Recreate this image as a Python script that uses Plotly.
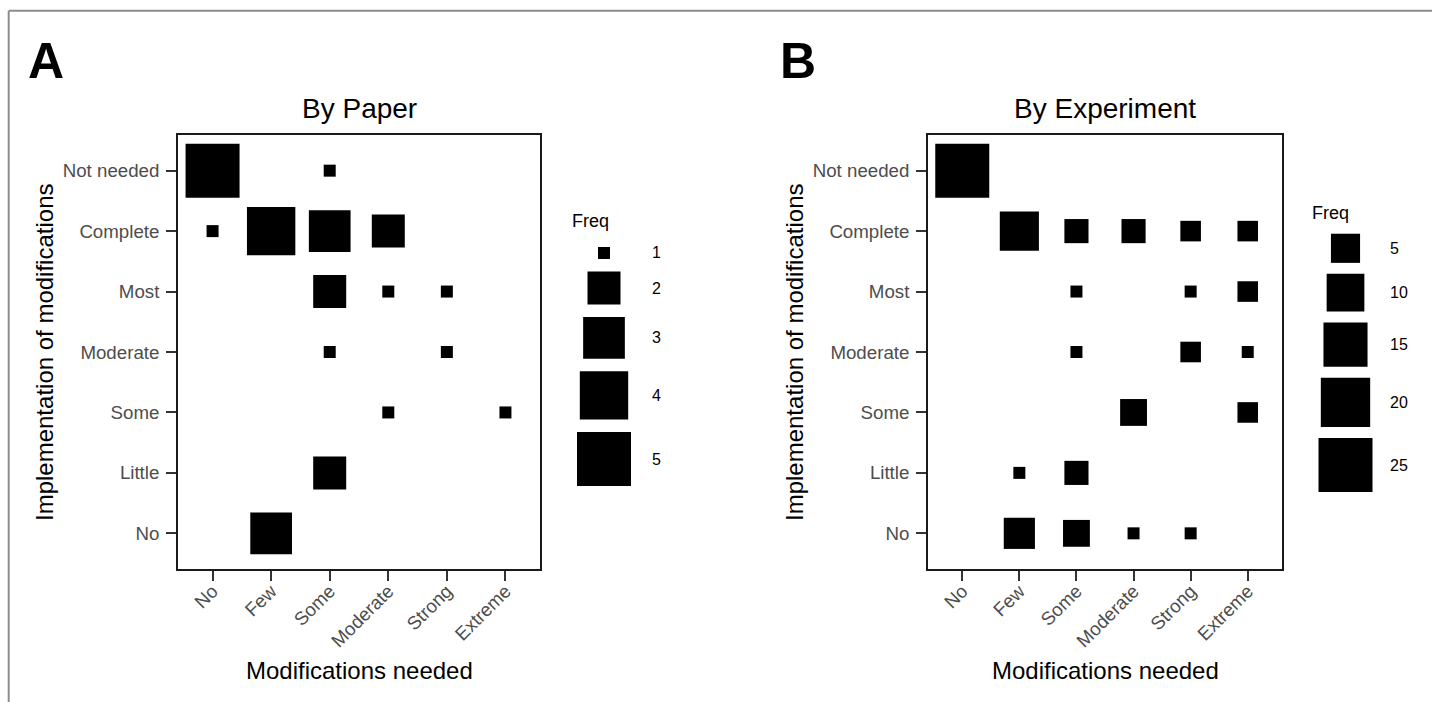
import numpy as np
import plotly.graph_objects as go

# ---------------- data ----------------
mod_levels = ["No", "Few", "Some", "Moderate", "Strong", "Extreme"]
impl_levels = ["Not needed", "Complete", "Most", "Moderate", "Some", "Little", "No"]

paper_mod = ["No", "Some", "No", "Few", "Some", "Moderate", "Some", "Moderate", "Strong",
             "Some", "Strong", "Moderate", "Extreme", "Some", "Few"]
paper_impl = ["Not needed", "Not needed", "Complete", "Complete", "Complete", "Complete",
              "Most", "Most", "Most", "Moderate", "Moderate", "Some", "Some", "Little", "No"]
paper_freq = [5, 1, 1, 4, 3, 2, 2, 1, 1, 1, 1, 1, 1, 2, 3]

exp_mod = ["No", "Few", "Some", "Moderate", "Strong", "Extreme", "Some", "Strong", "Extreme",
           "Some", "Strong", "Extreme", "Moderate", "Extreme", "Few", "Some",
           "Few", "Some", "Moderate", "Strong"]
exp_impl = ["Not needed", "Complete", "Complete", "Complete", "Complete", "Complete",
            "Most", "Most", "Most", "Moderate", "Moderate", "Moderate", "Some", "Some",
            "Little", "Little", "No", "No", "No", "No"]
exp_freq = [25, 11, 3, 3, 2, 2, 1, 1, 2, 1, 2, 1, 4, 2, 1, 3, 6, 4, 1, 1]

paper_legend = [1, 2, 3, 4, 5]
exp_legend = [5, 10, 15, 20, 25]

titles = ["By Paper", "By Experiment"]
panel_letters = ["A", "B"]
x_title = "Modifications needed"
y_title = "Implementation of modifications"
legend_title = "Freq"

# ---------------- style / layout ----------------
W, H = 1432, 702
FONT = "Liberation Sans, Arial, Helvetica, sans-serif"
SMIN, SMAX = 12, 54
TICK_GRAY = "#4d4d4d"


def size_scale(vals, lo, hi):
    v = np.asarray(vals, dtype=float)
    return (SMIN + (SMAX - SMIN) * np.sqrt((v - lo) / (hi - lo))).tolist()


def px(x):
    return x / W


def py(y):
    return 1 - y / H


panels = [
    dict(mod=paper_mod, impl=paper_impl, freq=paper_freq, leg=paper_legend,
         x0=178, x1=540, xpad=0.59, leg_x=604, leg_lab_x=650, leg_y0=253, leg_gap=12.5,
         freq_x=570, freq_y=221, ytitle_x=44, letter_x=26),
    dict(mod=exp_mod, impl=exp_impl, freq=exp_freq, leg=exp_legend,
         x0=928, x1=1282, xpad=0.6, leg_x=1345.5, leg_lab_x=1388, leg_y0=248.3, leg_gap=11,
         freq_x=1310, freq_y=213, ytitle_x=794, letter_x=778),
]
Y0, Y1 = 135, 569
ypad = 0.59

fig = go.Figure()
annotations = []
axis_common = dict(showline=True, mirror=True, linecolor="#1a1a1a", linewidth=1.8,
                   ticks="outside", ticklen=10, tickwidth=1.5, tickcolor="#333333",
                   showgrid=False, zeroline=False, fixedrange=True,
                   tickfont=dict(family=FONT, size=18.7, color=TICK_GRAY))


def ann(**kw):
    d = dict(xref="paper", yref="paper", showarrow=False)
    d.update(kw)
    return d


for i, p in enumerate(panels):
    k = "" if i == 0 else str(i + 1)
    lo, hi = min(p["freq"]), max(p["freq"])
    xs = [mod_levels.index(m) for m in p["mod"]]
    ys = [impl_levels.index(m) for m in p["impl"]]
    fig.add_trace(go.Scatter(
        x=xs, y=ys, mode="markers", xaxis="x" + k, yaxis="y" + k, showlegend=False,
        marker=dict(symbol="square", color="black", opacity=1,
                    size=size_scale(p["freq"], lo, hi), line=dict(width=0)),
        text=p["freq"], hovertemplate="%{text}<extra></extra>"))
    fig.update_layout(**{
        "xaxis" + k: dict(axis_common, domain=[px(p["x0"]), px(p["x1"])],
                          range=[-p["xpad"], len(mod_levels) - 1 + p["xpad"]],
                          tickmode="array", tickvals=list(range(len(mod_levels))),
                          ticktext=mod_levels, tickangle=-45, anchor="y" + k,
                          ticklabelstandoff=-8),
        "yaxis" + k: dict(axis_common, domain=[py(Y1), py(Y0)],
                          range=[len(impl_levels) - 1 + ypad, -ypad],
                          tickmode="array", tickvals=list(range(len(impl_levels))),
                          ticktext=impl_levels, anchor="x" + k, ticklabelstandoff=3),
    })
    cx = (p["x0"] + p["x1"]) / 2
    annotations += [
        ann(text=panel_letters[i], x=px(p["letter_x"]), y=py(61), xanchor="left",
            yanchor="middle", font=dict(family=FONT, size=50, color="black", weight="bold")),
        ann(text=titles[i], x=px(cx), y=py(108), xanchor="center", yanchor="middle",
            font=dict(family=FONT, size=28, color="black")),
        ann(text=x_title, x=px(cx), y=py(670), xanchor="center", yanchor="middle",
            font=dict(family=FONT, size=24, color="black")),
        ann(text=y_title, x=px(p["ytitle_x"]), y=py((Y0 + Y1) / 2), xanchor="center",
            yanchor="middle", textangle=-90, font=dict(family=FONT, size=24, color="black")),
        ann(text=legend_title, x=px(p["freq_x"]), y=py(p["freq_y"]), xanchor="left",
            yanchor="middle", font=dict(family=FONT, size=18, color="black")),
    ]
    # legend keys
    lsz = size_scale(p["leg"], lo, hi)
    centers = [p["leg_y0"]]
    for j in range(1, len(lsz)):
        centers.append(centers[-1] + (lsz[j - 1] + lsz[j]) / 2 + p["leg_gap"])
    fig.add_trace(go.Scatter(
        x=[p["leg_x"]] * len(lsz), y=centers, mode="markers", xaxis="x3", yaxis="y3",
        showlegend=False, hoverinfo="skip",
        marker=dict(symbol="square", color="black", opacity=1, size=lsz, line=dict(width=0))))
    for v, c in zip(p["leg"], centers):
        annotations.append(ann(text=str(v), x=px(p["leg_lab_x"]), y=py(c), xanchor="left",
                               yanchor="middle", font=dict(family=FONT, size=16, color="black")))

# pixel overlay axis for legend keys
fig.update_layout(
    xaxis3=dict(domain=[0, 1], range=[0, W], visible=False, fixedrange=True, anchor="y3"),
    yaxis3=dict(domain=[0, 1], range=[H, 0], visible=False, fixedrange=True, anchor="x3"),
)

shapes = [
    dict(type="line", xref="paper", yref="paper", x0=px(8.7), x1=1, y0=py(10.7), y1=py(10.7),
         line=dict(color="#8c8c8c", width=2)),
    dict(type="line", xref="paper", yref="paper", x0=px(8.7), x1=px(8.7), y0=py(10.7), y1=0,
         line=dict(color="#8c8c8c", width=2)),
]

fig.update_layout(
    width=W, height=H, margin=dict(l=0, r=0, t=0, b=0, autoexpand=False),
    paper_bgcolor="white", plot_bgcolor="rgba(0,0,0,0)",
    annotations=annotations, shapes=shapes, font=dict(family=FONT),
)

fig.write_html("out.html", config={"displayModeBar": False},
               post_script="document.body.style.margin='0px';")
